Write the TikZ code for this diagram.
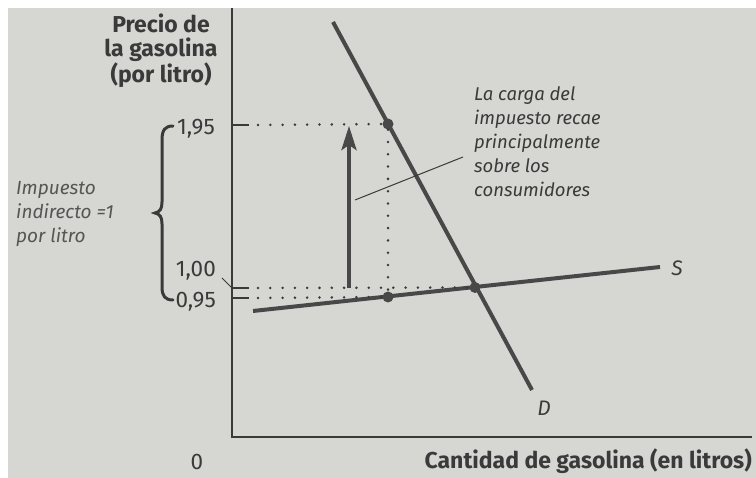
\documentclass[tikz,border=0pt]{standalone}
\usepackage{fontspec}
\setmainfont{Fira Sans}
\usetikzlibrary{arrows.meta}
\definecolor{paper}{RGB}{214,214,211}
\definecolor{ink}{RGB}{58,58,58}
\definecolor{curve}{RGB}{72,72,72}
\definecolor{soft}{RGB}{85,85,85}
\tikzset{
  axis/.style={draw=ink,line width=1.6pt},
  curveline/.style={draw=curve,line width=4pt},
  dotline/.style={draw=ink,line width=2.8pt,dash pattern=on 0pt off 12.3pt,line cap=round},
  tickline/.style={draw=ink,line width=1.6pt},
  ptdot/.style={circle,fill=curve,inner sep=0pt,minimum size=11pt},
  ticklab/.style={text=ink,font=\fontsize{22.5}{26}\selectfont,inner sep=0pt},
  boldlab/.style={text=ink,font=\fontsize{23}{24}\selectfont\bfseries,inner sep=0pt},
  itlab/.style={text=soft,font=\fontsize{19}{24}\selectfont\itshape,inner sep=0pt,align=left},
}
\begin{document}
\begin{tikzpicture}[x=1pt,y=-1pt]
\useasboundingbox (0,0) rectangle (756,478);
\fill[white] (0,0) rectangle (756,478);
\fill[paper] (8,8) rectangle (756,478);

% axes
\coordinate (ytop) at (232,8);
\coordinate (O) at (232,437);
\coordinate (xend) at (752,437);
\draw[axis] (ytop) -- (O) -- (xend);

% curves
\coordinate (Dstart) at (333,22);
\coordinate (Dend) at (532,390);
\coordinate (Sstart) at (253,311);
\coordinate (Send) at (660,267);
\draw[curveline] (Dstart) -- (Dend);
\draw[curveline] (Sstart) -- (Send);

% points
\node[ptdot] (pc) at (388,124) {};
\node[ptdot] (pp) at (388,297) {};
\node[ptdot] (eq) at (475,287.5) {};

% ticks
\coordinate (t195a) at (232,125); \coordinate (t195b) at (249,125);
\coordinate (t100a) at (232,288); \coordinate (t100b) at (249,288);
\coordinate (t095a) at (232,298); \coordinate (t095b) at (249,298);
\draw[tickline] (t195a) -- (t195b);
\draw[tickline] (t100a) -- (t100b);
\draw[tickline] (t095a) -- (t095b);

% dotted guides
\coordinate (d195) at (258,125);
\coordinate (d100) at (258,288);
\coordinate (d095) at (258,298);
\draw[dotline] (d195) -- (pc.west);
\draw[dotline] (pc.south) -- (pp.north);
\draw[dotline] (d100) -- (eq.west);
\draw[dotline] (d095) -- (pp.west);

% arrow
\coordinate (abot) at (349,288);
\coordinate (atop) at (349,126);
\draw[draw=curve,line width=4pt,-{Stealth[length=24pt,width=15pt,inset=5pt]}] (abot) -- (atop);

% labels
\node[ticklab,anchor=east] (l195) at (215,129) {1,95};
\node[ticklab,anchor=east] (l100) at (216,271) {1,00};
\node[ticklab,anchor=east] (l095) at (216,302) {0,95};
\coordinate (c100) at (222,278);
\draw[draw=ink,line width=1pt] (c100) -- (t100a);

\node[boldlab,align=center] (ytitle) at (161,51) {Precio de\\la gasolina\\(por litro)};
\node[boldlab,anchor=east] (xtitle) at (752,461) {Cantidad de gasolina (en litros)};
\node[ticklab] (zero) at (197,462) {0};

\node[text=ink,font=\fontsize{21}{22}\selectfont\itshape,inner sep=0pt] (Slab) at (677,268) {S};
\node[text=ink,font=\fontsize{21}{22}\selectfont\itshape,inner sep=0pt] (Dlab) at (544,408) {D};

% brace
\draw[draw=ink,line width=3pt,line cap=round]
  (173,126) .. controls (165,126) and (162,130) .. (162,140)
  -- (162,202) .. controls (162,209) and (160,212) .. (155,213)
  .. controls (160,214) and (162,217) .. (162,224)
  -- (162,287) .. controls (162,296) and (165,300) .. (173,300);

\node[itlab,anchor=west] (tax) at (16,214) {Impuesto\\indirecto =1\\por litro};

\node[itlab,text=ink,anchor=north west,font=\fontsize{18.5}{24.2}\selectfont\itshape] (note) at (474,86) {La carga del\\impuesto recae\\principalmente\\sobre los\\consumidores};
\coordinate (nstart) at (355,200);
\coordinate (nend) at (463,157);
\draw[draw=ink,line width=1pt] (nstart) -- (nend);
\end{tikzpicture}
\end{document}
